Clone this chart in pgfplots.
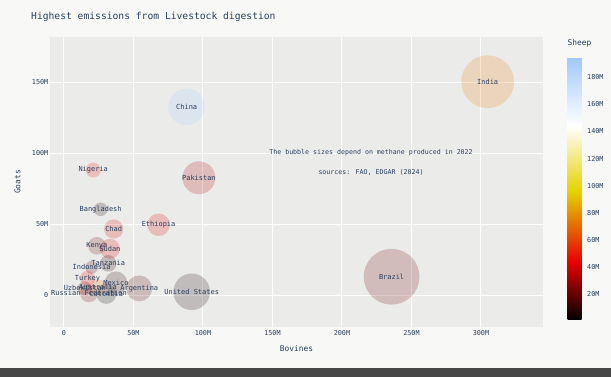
\documentclass[border=0pt]{standalone}
\usepackage{fontspec}
\setmainfont{DejaVu Sans Mono}
\usepackage{pgfplots}
\usepackage{pgfplotstable}
\pgfplotsset{compat=1.18}
\definecolor{paper}{RGB}{248,248,246}
\definecolor{plotbg}{RGB}{235,235,234}
\definecolor{txt}{RGB}{42,63,95}

\pgfplotstableread[col sep=comma, row sep=\\]{
x,y,sheep,d,label\\
304.8,150.2,74.5,53,India\\
88.3,132.6,194,36.7,China\\
235.7,12.9,21,56,Brazil\\
97.1,82.6,31.9,33,Pakistan\\
91.9,2.3,5,36.7,United States\\
54.2,4.7,14,26,Argentina\\
68.1,49.5,42,22.7,Ethiopia\\
37.4,8.7,8.7,22.7,Mexico\\
30.5,0.8,1.6,20,Colombia\\
18.0,1.2,21,18,Russian Federation\\
21.1,88.0,48,15,Nigeria\\
26.4,60.4,3.7,13.7,Bangladesh\\
35.8,46.5,40,19.3,Chad\\
23.7,34.7,19,17.7,Kenya\\
33.1,32.6,41,20,Sudan\\
31.9,22.3,9,16.7,Tanzania\\
19.9,19.5,15,13,Indonesia\\
17.0,11.8,45,15,Turkey\\
24.5,5.4,70,16,Australia\\
15.0,4.8,21,14,Uzbekistan\\
}\data

\begin{document}
\begin{tikzpicture}
\path[use as bounding box, fill=paper] (0,0) rectangle (611bp,377bp);
\fill[black!72] (0,0) rectangle (611bp,9bp);
\node[anchor=base west, text=txt, font=\fontsize{9.7}{11}\selectfont, inner sep=0pt] at (31bp,357.5bp) {Highest emissions from Livestock digestion};
\begin{axis}[
  at={(50bp,50bp)}, anchor=south west,
  width=493bp, height=290bp, scale only axis,
  xmin=-10, xmax=344.6, ymin=-22.5, ymax=181.7,
  axis background/.style={fill=plotbg},
  axis line style={draw=none},
  major tick length=0pt,
  grid=major, grid style={white, line width=1bp},
  xtick={0,50,100,150,200,250,300},
  xticklabels={0,50M,100M,150M,200M,250M,300M},
  ytick={0,50,100,150},
  yticklabels={0,50M,100M,150M},
  /pgf/number format/assume math mode=true,
  ticklabel style={font=\fontsize{6.8}{8}\selectfont, text=txt},
  yticklabel style={inner xsep=1.5bp},
  xlabel={Bovines}, ylabel={Goats},
  every axis x label/.style={at={(axis description cs:0.5,0)}, anchor=center, yshift=-22bp, font=\fontsize{7.9}{9}\selectfont, text=txt},
  every axis y label/.style={at={(axis description cs:0,0.5)}, xshift=-32.5bp, rotate=90, anchor=center, font=\fontsize{7.9}{9}\selectfont, text=txt},
  colormap={bb}{rgb255(0)=(0,0,0); rgb255(22)=(230,0,0); rgb255(49)=(230,210,0); rgb255(74)=(255,255,255); rgb255(100)=(160,200,255)},
  point meta min=0.8, point meta max=194.8,
  colorbar,
  colorbar style={
    at={(parent axis.south east)}, anchor=south west,
    xshift=16bp, yshift=7bp,
    width=18bp, height=262.7bp, scale only axis,
    axis line style={draw=none},
    major tick length=0pt,
    ytick={20,40,60,80,100,120,140,160,180},
    yticklabels={20M,40M,60M,80M,100M,120M,140M,160M,180M},
    yticklabel style={font=\fontsize{6.8}{8}\selectfont, text=txt, inner xsep=1.5bp},
    title={Sheep},
    title style={at={(0,1)}, anchor=base west, yshift=5.5bp, inner sep=0pt, font=\fontsize{7.9}{9}\selectfont, text=txt},
  },
]
\addplot[
  scatter, only marks, mark=*,
  point meta=\thisrow{sheep},
  scatter/use mapped color={draw opacity=0, fill=mapped color},
  visualization depends on={\thisrow{d}/2 \as \perpointmarksize},
  scatter/@pre marker code/.append style={/tikz/mark size=\perpointmarksize},
  mark options={fill opacity=0.2},
] table[x=x, y=y] {\data};
\addplot[
  only marks, mark=none,
  point meta=explicit symbolic,
  nodes near coords,
  every node near coord/.append style={anchor=center, inner sep=0pt, font=\fontsize{7}{8}\selectfont, text=txt},
] table[x=x, y=y, meta=label] {\data};
\node[font=\fontsize{6.65}{8}\selectfont, text=txt] at (axis cs:220.9,100.2) {The bubble sizes depend on methane produced in 2022};
\node[font=\fontsize{6.65}{8}\selectfont, text=txt] at (axis cs:220.9,86.4) {sources: FAO, EDGAR (2024)};
\end{axis}
\end{tikzpicture}
\end{document}
